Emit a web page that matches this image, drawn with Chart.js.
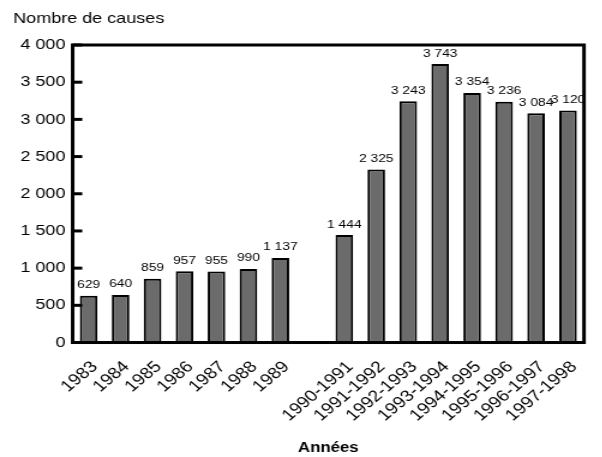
<!DOCTYPE html>
<html><head><meta charset="utf-8">
<script src="https://cdn.jsdelivr.net/npm/chart.js@4"></script>
<style>html,body{margin:0;padding:0;background:#fff;overflow:hidden}#w{width:502px;height:457px;transform:scaleX(1.2);transform-origin:0 0}</style>
</head><body><div id="w"><canvas id="c"></canvas></div>
<script>
const categories = ['1983','1984','1985','1986','1987','1988','1989','','1990-1991','1991-1992','1992-1993','1993-1994','1994-1995','1995-1996','1996-1997','1997-1998'];
const values = [629,640,859,957,955,990,1137,null,1444,2325,3243,3743,3354,3236,3084,3120];
const yTicks = [0,500,1000,1500,2000,2500,3000,3500,4000];
const fmt = v => String(v).replace(/\B(?=(\d{3})+(?!\d))/g, ' ');
const FONT = '"Liberation Sans", Arial, sans-serif';

const deco = {
  id:'deco',
  afterDraw(chart){
    const ctx = chart.ctx, a = chart.chartArea, y = chart.scales.y;
    ctx.save();
    ctx.strokeStyle = '#000'; ctx.lineWidth = 3;
    ctx.strokeRect(a.left, a.top, a.right - a.left, a.bottom - a.top);
    yTicks.forEach(t => { const py = y.getPixelForValue(t); ctx.beginPath(); ctx.moveTo(a.left, py); ctx.lineTo(a.left + 8, py); ctx.stroke(); });
    ctx.fillStyle = '#000'; ctx.font = '11.5px ' + FONT;
    ctx.textAlign = 'center'; ctx.textBaseline = 'bottom';
    const meta = chart.getDatasetMeta(0);
    meta.data.forEach((b, i) => { if (values[i] == null) return; ctx.fillText(fmt(values[i]), b.x, b.y - 5); });
    ctx.restore();
  }
};

new Chart(document.getElementById('c'), {
  type:'bar',
  data:{ labels: categories, datasets:[{ data: values, backgroundColor:'#6b6b6b', borderColor:'#000', borderWidth:2, barPercentage:0.55, categoryPercentage:1 }]},
  options:{
    responsive:true, maintainAspectRatio:false, animation:false,
    layout:{ padding:{ left:11, right:3, top:10, bottom:0 } },
    plugins:{ legend:{display:false}, tooltip:{enabled:false},
      title:{ display:true, text:'Nombre de causes', align:'start', color:'#000', font:{ family:FONT, size:15, weight:'normal' }, padding:{ top:0, bottom:17 } } },
    scales:{
      x:{ grid:{ display:false, drawTicks:false }, border:{ display:false },
        ticks:{ color:'#000', maxRotation:45, minRotation:45, autoSkip:false, padding:15, labelOffset:5, font:{ family:FONT, size:16 } },
        title:{ display:true, text:'Années', color:'#000', font:{ family:FONT, size:14, weight:'bold' }, padding:{ top:0, bottom:0 } } },
      y:{ min:0, max:4000, grid:{ display:false, drawTicks:false }, border:{ display:false },
        afterBuildTicks: s => { s.ticks = yTicks.map(v => ({ value:v })); },
        ticks:{ color:'#000', padding:6, callback: v => fmt(v), font:{ family:FONT, size:15 } } }
    }
  },
  plugins:[deco]
});
</script></body></html>
